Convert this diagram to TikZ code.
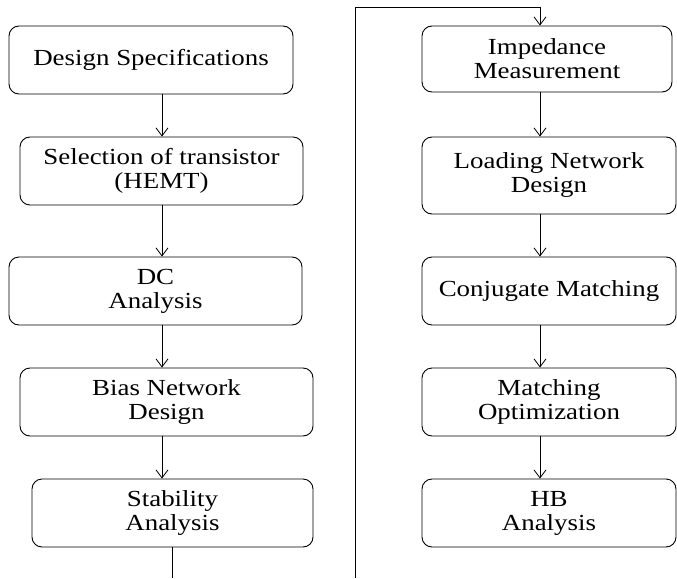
\documentclass[tikz,border=0pt]{standalone}
\usepackage{fontspec}
\setmainfont[FakeStretch=1.17]{Liberation Serif}
\usetikzlibrary{arrows.meta}
\begin{document}
\begin{tikzpicture}[x=1pt,y=-1pt,
  box/.style={draw,line width=0.9pt,rounded corners=10pt,align=center,inner sep=0pt,
    font=\fontsize{23}{24}\selectfont},
  conn/.style={line width=0.8pt},
  arr/.style={conn,-{Straight Barb[length=8pt,width=12pt,line width=0.8pt]}}]
\useasboundingbox (0,0) rectangle (677,578);
% left column
\node[box,minimum width=284pt,minimum height=68pt] (ds) at (151,60) {Design Specifications};
\node[box,minimum width=283pt,minimum height=68pt] (sel) at (161.5,171) {Selection of transistor\\(HEMT)};
\node[box,minimum width=293pt,minimum height=68pt] (dc) at (155.5,291) {DC\\Analysis};
\node[box,minimum width=293pt,minimum height=68pt] (bias) at (166.5,402) {Bias Network\\Design};
\node[box,minimum width=281pt,minimum height=68pt] (stab) at (172.5,513) {Stability\\Analysis};
% right column
\node[box,minimum width=250pt,minimum height=66pt] (imp) at (547,59) {Impedance\\Measurement};
\node[box,minimum width=254pt,minimum height=77pt] (load) at (549,175.5) {Loading Network\\Design};
\node[box,minimum width=254pt,minimum height=68pt] (conj) at (549,291) {Conjugate Matching};
\node[box,minimum width=254pt,minimum height=68pt] (mopt) at (549,402) {Matching\\Optimization};
\node[box,minimum width=254pt,minimum height=68pt] (hb) at (549,513) {HB\\Analysis};
% coordinates
\coordinate (c1) at (162,0);
\coordinate (c3) at (172,578);
\coordinate (r0) at (355,578);
\coordinate (r1) at (355,7);
\coordinate (r2) at (540,7);
\coordinate (rx) at (540,0);
% left arrows
\draw[arr] (ds.south -| c1) -- (sel.north -| c1);
\draw[arr] (sel.south -| c1) -- (dc.north -| c1);
\draw[arr] (dc.south -| c1) -- (bias.north -| c1);
\draw[arr] (bias.south -| c1) -- (stab.north -| c1);
\draw[conn] (stab.south -| c3) -- (c3);
% loop to right column
\draw[conn] (r0) -- (r1) -- (r2);
\draw[arr] (r2) -- (imp.north -| r2);
% right arrows
\draw[arr] (imp.south -| rx) -- (load.north -| rx);
\draw[arr] (load.south -| rx) -- (conj.north -| rx);
\draw[arr] (conj.south -| rx) -- (mopt.north -| rx);
\draw[arr] (mopt.south -| rx) -- (hb.north -| rx);
\end{tikzpicture}
\end{document}
